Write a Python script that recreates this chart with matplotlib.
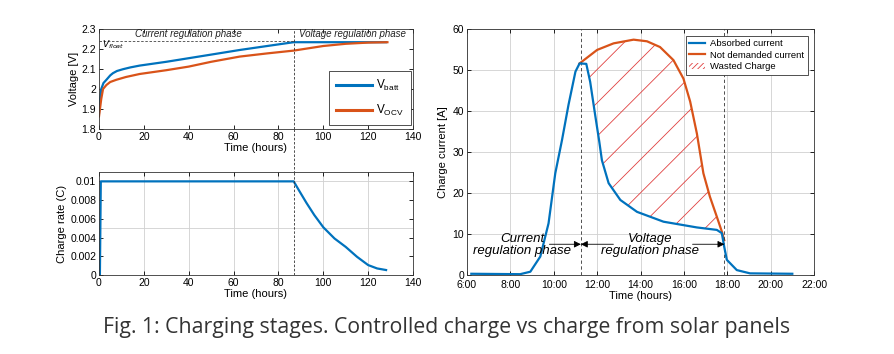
import matplotlib
matplotlib.use("Agg")
import matplotlib.pyplot as plt
import numpy as np
from matplotlib.lines import Line2D
from matplotlib.patches import Patch

plt.rcParams['font.family'] = ['Liberation Sans', 'DejaVu Sans']
plt.rcParams['hatch.linewidth'] = 0.6

BLUE = '#0072BD'
ORANGE = '#D95319'
HATCH = '#E04040'

# ---- data: left top (voltage) ----
vbatt_t = [0, 0.5, 1.0, 2.0, 3.3, 5.0, 6.2, 8.0, 10.7, 14, 18.1, 30, 40, 50, 62.7, 75, 86.8, 100, 115, 128]
vbatt_v = [1.88, 1.95, 2.0, 2.03, 2.046, 2.068, 2.079, 2.09, 2.099, 2.108, 2.117, 2.136, 2.154,
           2.172, 2.195, 2.215, 2.234, 2.234, 2.234, 2.234]
vocv_t = [0, 1.0, 1.8, 3.3, 5.0, 7.7, 12, 18.1, 30, 40, 50, 62.7, 75, 86.8, 100, 110, 120, 128.6]
vocv_v = [1.863, 1.95, 2.0, 2.02, 2.035, 2.046, 2.06, 2.075, 2.094, 2.112, 2.136, 2.162, 2.178,
          2.192, 2.215, 2.226, 2.232, 2.234]
v_float = 2.24
t_switch = 86.8

# ---- data: left bottom (charge rate) ----
rate_t = [0, 0.4, 0.8, 86.8, 89, 92.5, 96, 100, 105, 110, 115, 120, 124, 128]
rate_v = [0, 0.0, 0.01, 0.01, 0.0091, 0.0077, 0.0064, 0.0051, 0.0039, 0.0030, 0.00195, 0.00106,
          0.0007, 0.00053]

# ---- data: right (solar charge current) ----
abs_t = [6.2, 8.45, 8.92, 9.38, 9.76, 10.07, 10.38, 10.68, 11.0, 11.19, 11.5, 11.68, 11.91,
         12.1, 12.22, 12.53, 13.07, 13.84, 15.06, 16.6, 17.52, 17.75, 17.86, 17.98, 18.44, 19.05, 21.0]
abs_i = [0.3, 0.2, 0.8, 4.5, 12.6, 24.8, 32.9, 41.5, 49.6, 51.6, 51.5, 47.1, 39.0,
         32.5, 28.0, 22.4, 18.3, 15.4, 13.0, 11.6, 11.0, 10.2, 6.9, 3.7, 1.2, 0.4, 0.3]
nd_t = [11.19, 12.0, 12.76, 13.68, 14.3, 14.9, 15.52, 15.98, 16.29, 16.6, 16.9, 17.2, 17.52, 17.75, 17.86]
nd_i = [51.6, 54.9, 56.5, 57.4, 57.0, 55.6, 52.4, 47.9, 42.3, 34.5, 24.8, 19.1, 14.2, 10.6, 8.5]
t_cur_end = 11.25
t_volt_end = 17.87
hour_ticks = [6, 8, 10, 12, 14, 16, 18, 20, 22]
hour_labels = ['6:00', '8:00', '10:00', '12:00', '14:00', '16:00', '18:00', '20:00', '22:00']

caption = 'Fig. 1: Charging stages. Controlled charge vs charge from solar panels'

W, H = 894, 354
fig = plt.figure(figsize=(W / 100, H / 100), dpi=100)
fig.patch.set_facecolor('white')

def frac(l, t, r, b):
    return [l / W, 1 - b / H, (r - l) / W, (b - t) / H]

ax1 = fig.add_axes(frac(99, 29, 413, 129))
ax2 = fig.add_axes(frac(99, 172, 413, 275))
ax3 = fig.add_axes(frac(467, 29, 814, 275))

TICK = 7.5
LAB = 8
for ax in (ax1, ax2, ax3):
    ax.tick_params(direction='in', top=True, right=True, length=3, width=0.6,
                   labelsize=TICK, pad=2)
    for s in ax.spines.values():
        s.set_linewidth(0.6)
        s.set_color('#333333')
ax3.tick_params(axis='x', pad=3.5)

# ---- top-left ----
l1, = ax1.plot(vbatt_t, vbatt_v, color=BLUE, lw=1.6)
l2, = ax1.plot(vocv_t, vocv_v, color=ORANGE, lw=1.6)
ax1.set_xlim(0, 140)
ax1.set_ylim(1.8, 2.3)
ax1.set_xticks(np.arange(0, 141, 20))
ax1.set_yticks([1.8, 1.9, 2.0, 2.1, 2.2, 2.3])
ax1.set_yticklabels(['1.8', '1.9', '2', '2.1', '2.2', '2.3'])
ax1.set_xlabel('Time (hours)', fontsize=LAB, labelpad=1)
ax1.set_ylabel('Voltage [V]', fontsize=LAB, labelpad=2)
ax1.plot([0, t_switch], [v_float, v_float], color='#444444', lw=0.6, ls=(0, (3, 2)))
ax1.axvline(t_switch, color='#333333', lw=0.6, ls=(0, (3, 2)))
ax1.text(1.5, 2.222, r'$V_{float}$', fontsize=6.5, style='italic', va='center')
ax1.text(40, 2.275, 'Current regulation phase', fontsize=7, style='italic',
         ha='center', va='center', color='#222222')
ax1.text(113, 2.275, 'Voltage regulation phase', fontsize=7, style='italic',
         ha='center', va='center', color='#222222')
leg1 = ax1.legend([l1, l2], [r'$\mathregular{V_{batt}}$', r'$\mathregular{V_{OCV}}$'],
                  loc='lower right', fontsize=8.5, frameon=True, fancybox=False,
                  edgecolor='#333333', handlelength=3.0, handletextpad=0.4, borderpad=0.6,
                  labelspacing=0.8, bbox_to_anchor=(0.994, 0.04), borderaxespad=0,
                  framealpha=1)
leg1.get_frame().set_linewidth(0.6)
for h in leg1.get_lines():
    h.set_linewidth(2.2)

# ---- bottom-left ----
ax2.plot(rate_t, rate_v, color=BLUE, lw=1.6)
ax2.set_xlim(0, 140)
ax2.set_ylim(0, 0.011)
ax2.set_xticks(np.arange(0, 141, 20))
ax2.set_yticks([0, 0.002, 0.004, 0.006, 0.008, 0.01])
ax2.set_yticklabels(['0', '0.002', '0.004', '0.006', '0.008', '0.01'])
ax2.set_xlabel('Time (hours)', fontsize=LAB, labelpad=1)
ax2.set_ylabel('Charge rate (C)', fontsize=LAB, labelpad=2)
for x in np.arange(20, 140, 20):
    ax2.axvline(x, color='#d0d0d0', lw=0.6, zorder=0)
for y in [0.005, 0.01]:
    ax2.axhline(y, color='#d0d0d0', lw=0.6, zorder=0)
ax2.axvline(t_switch, color='#333333', lw=0.6, ls=(0, (3, 2)))
# connect dashed line through the gap between the two axes
x_fig = (99 + (413 - 99) * t_switch / 140) / W
fig.add_artist(Line2D([x_fig, x_fig], [1 - 129 / H, 1 - 172 / H], transform=fig.transFigure,
                      color='#333333', lw=0.6, ls=(0, (3, 2))))

# ---- right ----
ax3.set_xlim(6, 22)
ax3.set_ylim(0, 60)
ax3.set_xticks(hour_ticks)
ax3.set_xticklabels(hour_labels)
ax3.set_yticks(np.arange(0, 61, 10))
ax3.grid(True, color='#d0d0d0', lw=0.6)
ax3.set_axisbelow(True)
# hatched wasted region between orange and blue
fine_t = np.union1d(nd_t, [t for t in abs_t if nd_t[0] <= t <= nd_t[-1]])
upper = np.interp(fine_t, nd_t, nd_i)
lower = np.interp(fine_t, abs_t, abs_i)
ax3.fill_between(fine_t, lower, upper, facecolor='none', edgecolor=HATCH, hatch='/',
                 linewidth=0, zorder=1)
a1, = ax3.plot(abs_t, abs_i, color=BLUE, lw=1.6, zorder=3)
a2, = ax3.plot(nd_t, nd_i, color=ORANGE, lw=1.6, zorder=2)
ax3.axvline(t_cur_end, color='#333333', lw=0.6, ls=(0, (4, 3)), zorder=2)
ax3.axvline(t_volt_end, color='#333333', lw=0.6, ls=(0, (4, 3)), zorder=2)
ax3.set_xlabel('Time (hours)', fontsize=LAB, labelpad=1)
ax3.set_ylabel('Charge current [A]', fontsize=LAB, labelpad=3)
hp = Patch(facecolor='none', edgecolor=HATCH, hatch='//////', linewidth=0)
leg3 = ax3.legend([a1, a2, hp], ['Absorbed current', 'Not demanded current', 'Wasted Charge'],
                  loc='upper right', fontsize=6.8, frameon=True, fancybox=False,
                  edgecolor='#333333', handlelength=1.7, handletextpad=0.5, borderpad=0.4,
                  labelspacing=0.25, bbox_to_anchor=(0.983, 0.973), borderaxespad=0,
                  framealpha=1)
leg3.get_frame().set_linewidth(0.6)

ap = dict(arrowstyle='-|>', color='black', lw=0.6, mutation_scale=10, shrinkA=0, shrinkB=0)
ax3.annotate('', xy=(t_cur_end, 7.5), xytext=(9.8, 7.5), arrowprops=ap)
ax3.annotate('', xy=(t_cur_end, 7.5), xytext=(12.75, 7.5), arrowprops=ap)
ax3.annotate('', xy=(t_volt_end, 7.5), xytext=(16.4, 7.5), arrowprops=ap)
ax3.text(8.55, 7.3, 'Current\nregulation phase', fontsize=9.5, style='italic',
         ha='center', va='center', linespacing=1.0)
ax3.text(14.45, 7.3, 'Voltage\nregulation phase', fontsize=9.5, style='italic',
         ha='center', va='center', linespacing=1.0)

fig.text(0.5, 1 - 327 / H, caption, fontsize=15.3, family='Open Sans',
         color='#333333', ha='center', va='center')

fig.savefig('out.png', dpi=100, facecolor='white')
